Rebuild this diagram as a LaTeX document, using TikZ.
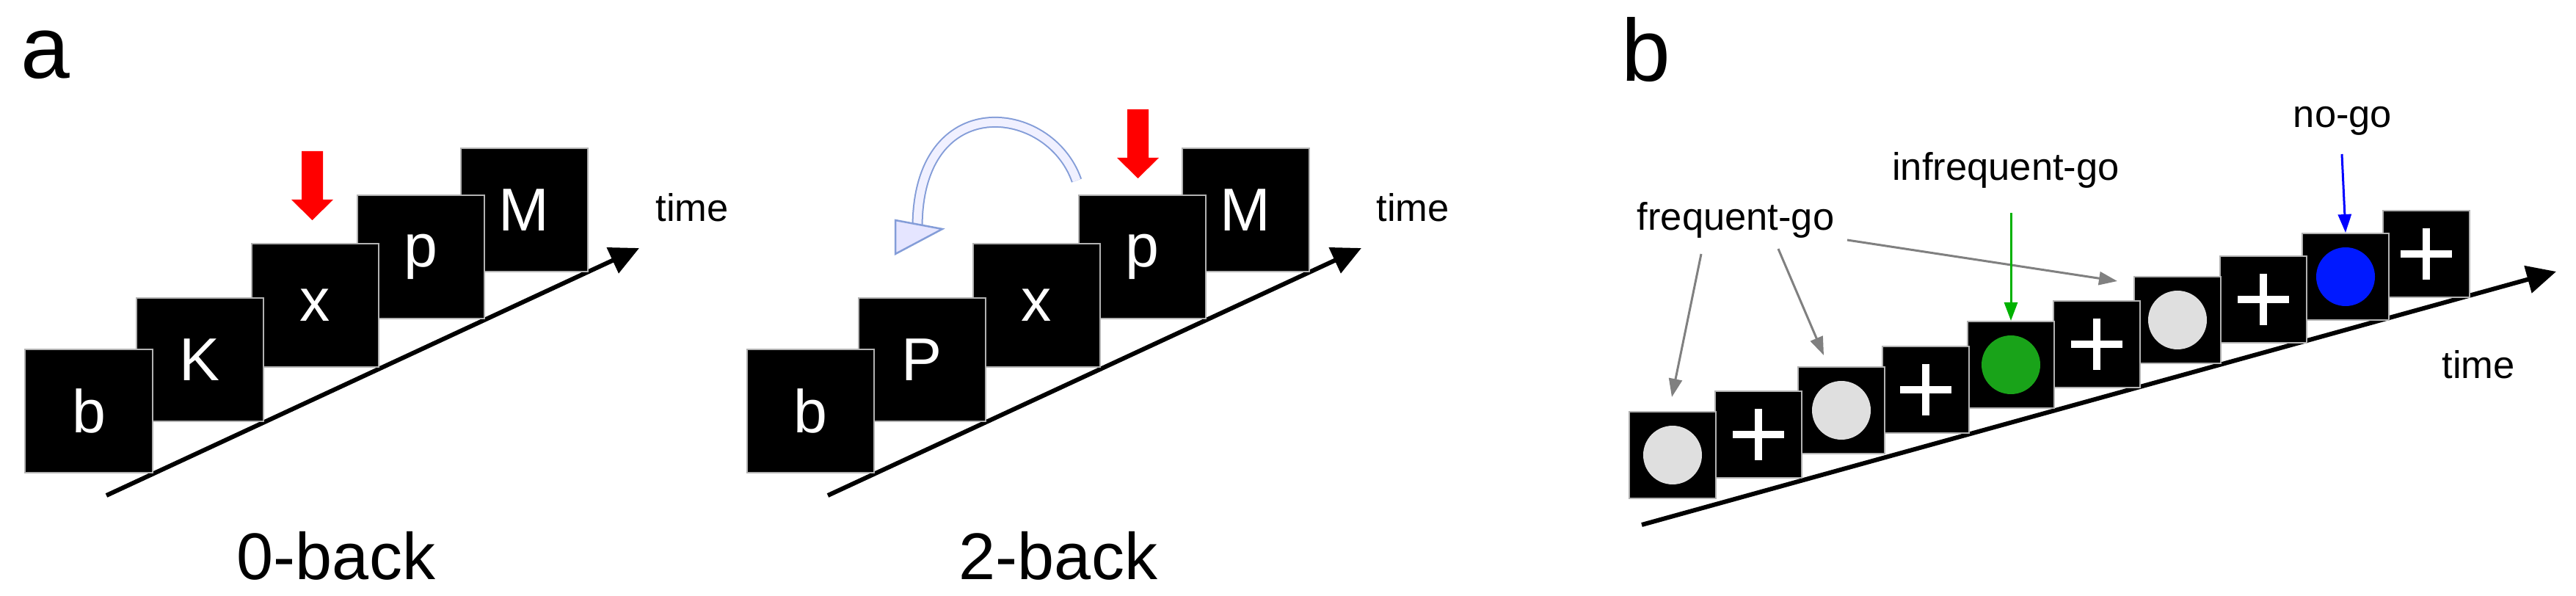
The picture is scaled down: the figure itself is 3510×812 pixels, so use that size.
\documentclass[tikz,border=0pt]{standalone}
\usepackage{fontspec}
\setmainfont{Liberation Sans}
\usetikzlibrary{arrows.meta}
\begin{document}
\begin{tikzpicture}[x=0.2pt,y=-0.2pt,
  lbox/.style={fill=black,draw=gray!60,line width=0.4pt,inner sep=0,minimum width=34.6pt,minimum height=33.6pt,text=white,font=\fontsize{16.5}{18}\selectfont},
  sbox/.style={fill=black,draw=gray!60,line width=0.4pt,inner sep=0,minimum width=23.6pt,minimum height=23.6pt},
  axis/.style={line width=1.2pt,-{Triangle[length=8pt,width=7.5pt]}},
  ptr/.style={line width=0.6pt,-{Triangle[length=5pt,width=3.6pt]}},
  lab/.style={font=\fontsize{10.5}{12}\selectfont},
  big/.style={font=\fontsize{24}{26}\selectfont},
  captxt/.style={font=\fontsize{18}{20}\selectfont},
  redarr/.style={fill=red,draw=none}]
\useasboundingbox (0,0) rectangle (3510,812);
\node[big] (la) at (62,75) {a};
\node[big] (lb) at (2243,68) {b};
% panel a: 0-back
\draw[axis] (145,675) coordinate (a0) -- (871,338) coordinate (a1);
\node[lbox] (m1) at (714,286) {M};
\node[lbox] (p1) at (573,350) {p};
\node[lbox] (x1) at (429,416) {x};
\node[lbox] (k1) at (272,490) {K};
\node[lbox] (b1) at (121,560) {b};
\fill[redarr] (411,206) -- (440,206) -- (440,272) -- (454,272) -- (425.5,300) -- (397,272) -- (411,272) -- cycle;
\node[lab] (t1) at (943,283) {time};
\node[captxt] (c1) at (458,757) {0-back};
% panel a: 2-back
\draw[axis] (1128,675) coordinate (a2) -- (1855,338) coordinate (a3);
\node[lbox] (m2) at (1697,286) {M};
\node[lbox] (p2) at (1556,350) {p};
\node[lbox] (x2) at (1412,416) {x};
\node[lbox] (k2) at (1256,490) {P};
\node[lbox] (b2) at (1104,560) {b};
\fill[redarr] (1536,149) -- (1565,149) -- (1565,215) -- (1579,215) -- (1550.5,243) -- (1522,215) -- (1536,215) -- cycle;
\draw[line width=3pt,color=cyan!40!blue!50] (1467,246) .. controls (1430,140) and (1250,120) .. (1250,310);
\draw[line width=2.2pt,color=blue!6] (1467,246) .. controls (1430,140) and (1250,120) .. (1250,310);
\filldraw[draw=cyan!40!blue!50,fill=blue!10,line width=0.5pt] (1220,300) -- (1284,312) -- (1220,346) -- cycle;
\node[lab] (t2) at (1925,283) {time};
\node[captxt] (c2) at (1442,757) {2-back};
% panel b
\draw[axis] (2237,715) coordinate (b0) -- (3483,370) coordinate (bend);
\node[sbox] (s10) at (3306,346) {};
\node[sbox] (s9) at (3196,377) {};
\node[sbox] (s8) at (3084,408) {};
\node[sbox] (s7) at (2967,436) {};
\node[sbox] (s6) at (2857,469) {};
\node[sbox] (s5) at (2740,497) {};
\node[sbox] (s4) at (2624,531) {};
\node[sbox] (s3) at (2509,559) {};
\node[sbox] (s2) at (2396,592) {};
\node[sbox] (s1) at (2279,620) {};
\foreach \s in {s1,s3,s7} \fill[gray!25] (\s) circle[radius=40];
\fill[green!60!black!90] (s5) circle[radius=40];
\fill[blue!90!cyan] (s9) circle[radius=40];
\foreach \s in {s2,s4,s6,s8,s10} {
  \fill[white] ([xshift=-7pt,yshift=-1pt]\s.center) rectangle ([xshift=7pt,yshift=1pt]\s.center);
  \fill[white] ([xshift=-1pt,yshift=-7pt]\s.center) rectangle ([xshift=1pt,yshift=7pt]\s.center);
}
\node[lab] (t3) at (3377,497) {time};
\node[lab] (fg) at (2365,300) {frequent-go};
\node[lab] (ig) at (2733,232) {infrequent-go};
\node[lab] (ng) at (3192,165) {no-go};
\coordinate (f1) at (2318,346); \coordinate (f2) at (2423,339); \coordinate (f3) at (2517,327);
\draw[ptr,gray] (f1) -- (2278,541);
\draw[ptr,gray] (f2) -- (2485,484);
\draw[ptr,gray] (f3) -- (2885,383);
\draw[ptr,green!70!black] (2740,290) -- (s5.north);
\draw[ptr,blue] (3191,210) -- (s9.north);
\end{tikzpicture}
\end{document}
